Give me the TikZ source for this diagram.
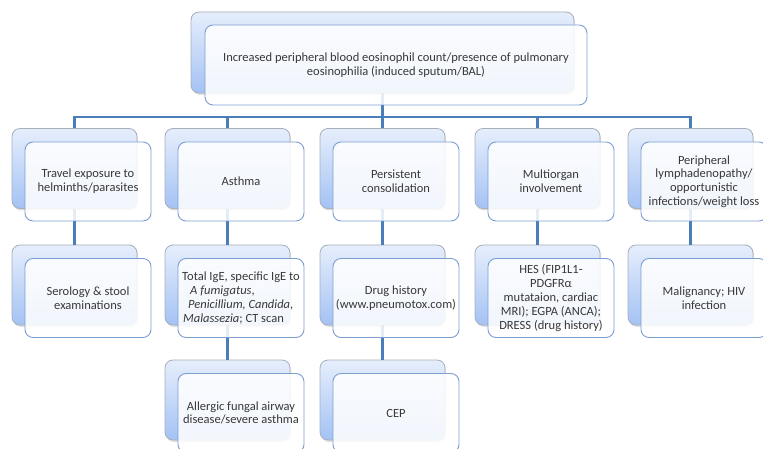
\documentclass[tikz,border=0pt]{standalone}
\usepackage{fontspec}
\setmainfont{Carlito}
\usetikzlibrary{shadows}
\definecolor{linkblue}{HTML}{4A7EBB}
\definecolor{backtop}{HTML}{E6EEFC}
\definecolor{backbot}{HTML}{A4C2F4}
\definecolor{backline}{HTML}{A6AFBB}
\definecolor{cardline}{HTML}{7C9FD2}
\definecolor{textgray}{HTML}{383838}

\begin{document}
\begin{tikzpicture}[x=1pt, y=-1pt,
  back/.style={draw=backline, line width=.8pt, rounded corners=8pt, minimum width=125pt, minimum height=80pt, top color=backtop, bottom color=backbot, drop shadow={opacity=.25, shadow xshift=1pt, shadow yshift=-2pt}},
  card/.style={draw=cardline, line width=.9pt, fill=white, fill opacity=.86, text opacity=1, rounded corners=8pt, minimum width=126pt, minimum height=79pt, align=center, text=textgray, font=\fontsize{12.5}{13.8}\selectfont, inner sep=1pt},
  link/.style={draw=linkblue, line width=2.4pt}]
  \useasboundingbox (0,0) rectangle (763,449);
  % back layer
  \node [back, minimum width=383pt, minimum height=81pt] (t) at (382.5,52.5) {};
  \node [back] (a1) at (74.5,168.5) {};
  \node [back] (a2) at (227.5,168.5) {};
  \node [back] (a3) at (382.5,168.5) {};
  \node [back] (a4) at (537.5,168.5) {};
  \node [back] (a5) at (690.5,168.5) {};
  \node [back] (b1) at (74.5,285) {};
  \node [back] (b2) at (227.5,285) {};
  \node [back] (b3) at (382.5,285) {};
  \node [back] (b4) at (537.5,285) {};
  \node [back] (b5) at (690.5,285) {};
  \node [back] (c2) at (227.5,400) {};
  \node [back] (c3) at (382.5,400) {};
  % connectors
  \coordinate (bus) at (382.5,117);
  \draw [link] (t.south) -- (bus);
  \draw [link] (bus) -| (a1.north);
  \draw [link] (bus) -| (a2.north);
  \draw [link] (bus) -| (a3.north);
  \draw [link] (bus) -| (a4.north);
  \draw [link] (bus) -| (a5.north);
  \draw [link] (a1) -- (b1);
  \draw [link] (a2) -- (b2);
  \draw [link] (a3) -- (b3);
  \draw [link] (a4) -- (b4);
  \draw [link] (a5) -- (b5);
  \draw [link] (b2) -- (c2);
  \draw [link] (b3) -- (c3);
  % front cards
  \node [card, minimum width=382pt, minimum height=80pt] (tf) at (396,65) {Increased peripheral blood eosinophil count/presence of pulmonary\\eosinophilia (induced sputum/BAL)};
  \node [card] (a1f) at (88,181.5) {Travel exposure to\\helminths/parasites};
  \node [card] (a2f) at (241,181.5) {Asthma};
  \node [card] (a3f) at (396,181.5) {Persistent\\consolidation};
  \node [card] (a4f) at (551,181.5) {Multiorgan\\involvement};
  \node [card] (a5f) at (704,181.5) {Peripheral\\lymphadenopathy/\\opportunistic\\infections/weight loss};
  \node [card] (b1f) at (88,298) {Serology \& stool\\examinations};
  \node [card, align=left] (b2f) at (241,298) {Total IgE, specific IgE to\\\hspace*{8pt}\textit{A fumigatus},\\\hspace*{6pt}\textit{Penicillium, Candida},\\\hspace*{1pt}\textit{Malassezia}; CT scan};
  \node [card] (b3f) at (396,298) {Drug history\\(www.pneumotox.com)};
  \node [card] (b4f) at (551,298) {HES (FIP1L1-\\PDGFRα\\mutataion, cardiac\\MRI); EGPA (ANCA);\\DRESS (drug history)};
  \node [card] (b5f) at (704,298) {Malignancy; HIV\\infection};
  \node [card] (c2f) at (241,413) {Allergic fungal airway\\disease/severe asthma};
  \node [card] (c3f) at (396,413) {CEP};
\end{tikzpicture}
\end{document}
